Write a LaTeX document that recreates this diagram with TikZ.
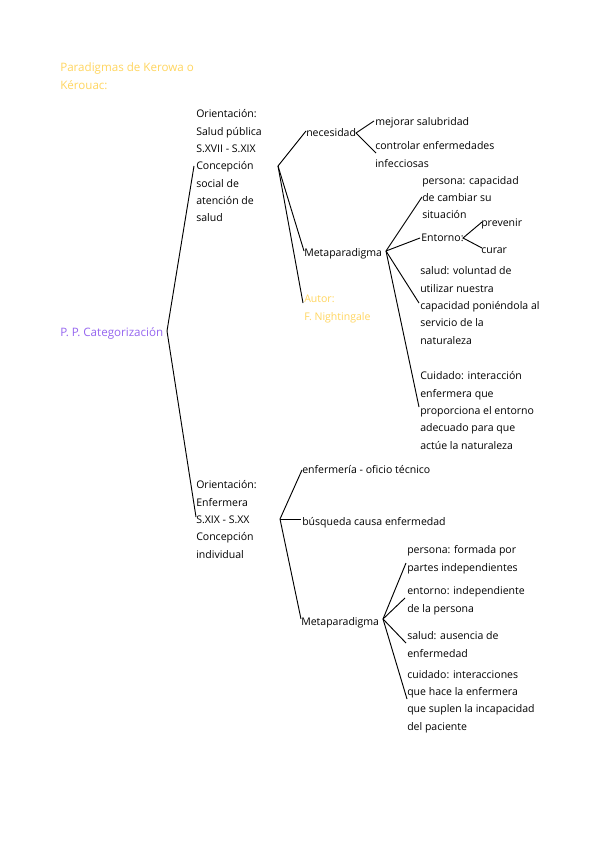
\documentclass[tikz,border=0pt]{standalone}
\usepackage{fontspec}
\setmainfont{Open Sans}
\definecolor{ylw}{RGB}{255,214,96}
\definecolor{prp}{RGB}{150,102,240}
\begin{document}
% note: multi-line nodes are placed by the baseline of their LAST line
\begin{tikzpicture}[x=0.75pt,y=-0.75pt,
  txt/.style={anchor=base west,inner sep=0pt,align=left,font=\fontsize{7.9}{13}\selectfont},
  big/.style={txt,font=\fontsize{8.7}{13}\selectfont},
  conn/.style={line width=0.7pt,black}]
\useasboundingbox (0,0) rectangle (600,848);
\fill[white] (0,0) rectangle (600,848);
\begin{scope}[yshift=-1.5pt]
% texts
\node[big,text=ylw] (title) at (60,87.3) {Paradigmas de Kerowa o\\Kérouac:};
\node[big,text=prp] (root) at (60,334) {P. P. Categorización};
\node[txt] (or1) at (196,220) {Orientación:\\Salud pública\\S.XVII - S.XIX\\Concepción\\social de\\atención de\\salud};
\node[txt] (nec) at (306,135) {necesidad};
\node[txt] (mej) at (375,124) {mejorar salubridad};
\node[txt] (con) at (375,165.3) {controlar enfermedades\\infecciosas};
\node[txt] (meta1) at (304,255) {Metaparadigma};
\node[txt,text=ylw] (aut) at (304,318.3) {Autor:\\F. Nightingale};
\node[txt] (pers1) at (422,216.7) {persona: capacidad\\de cambiar su\\situación};
\node[txt] (ent1) at (421,240) {Entorno:};
\node[txt] (prev) at (481,225) {prevenir};
\node[txt] (cur) at (481,251) {curar};
\node[txt] (sal1) at (420,342.3) {salud: voluntad de\\utilizar nuestra\\capacidad poniéndola al\\servicio de la\\naturaleza};
\node[txt] (cui1) at (420,447.3) {Cuidado: interacción\\enfermera que\\proporciona el entorno\\adecuado para que\\actúe la naturaleza};
\node[txt] (or2) at (196,556.3) {Orientación:\\Enfermera\\S.XIX - S.XX\\Concepción\\individual};
\node[txt] (enf) at (302,471) {enfermería - oficio técnico};
\node[txt] (bus) at (302,523) {búsqueda causa enfermedad};
\node[txt] (meta2) at (301,623) {Metaparadigma};
\node[txt] (pers2) at (407,569.3) {persona: formada por\\partes independientes};
\node[txt] (ent2) at (407,610.3) {entorno: independiente\\de la persona};
\node[txt] (sal2) at (407,655.3) {salud: ausencia de\\enfermedad};
\node[txt] (cui2) at (407,728) {cuidado: interacciones\\que hace la enfermera\\que suplen la incapacidad\\del paciente};
\end{scope}
% connector points
\coordinate (rootR) at (167,331);
\coordinate (or1in) at (194,166);
\coordinate (or2in) at (196,517);
\coordinate (b1) at (278,166);
\coordinate (necin) at (306,131);
\coordinate (meta1in) at (304,251);
\coordinate (autin) at (303,303);
\coordinate (necR) at (356,133);
\coordinate (mejin) at (374,121);
\coordinate (conin) at (376,153);
\coordinate (meta1R) at (386,251);
\coordinate (pers1in) at (422,197);
\coordinate (ent1in) at (420,238);
\coordinate (sal1in) at (419,303);
\coordinate (cui1in) at (419,407);
\coordinate (ent1R) at (463,238);
\coordinate (previn) at (482,222);
\coordinate (curin) at (482,248);
\coordinate (b2) at (280,519);
\coordinate (enfin) at (302,470);
\coordinate (busin) at (301,519);
\coordinate (meta2in) at (301,619);
\coordinate (meta2R) at (383,619);
\coordinate (pers2in) at (406,563);
\coordinate (ent2in) at (405,598);
\coordinate (sal2in) at (406,643);
\coordinate (cui2in) at (407,699);
% connectors
\draw[conn] (or1in) -- (rootR) -- (or2in);
\draw[conn] (b1) -- (necin);
\draw[conn] (b1) -- (meta1in);
\draw[conn] (b1) -- (autin);
\draw[conn] (mejin) -- (necR) -- (conin);
\draw[conn] (meta1R) -- (pers1in);
\draw[conn] (meta1R) -- (ent1in);
\draw[conn] (meta1R) -- (sal1in);
\draw[conn] (meta1R) -- (cui1in);
\draw[conn] (previn) -- (ent1R) -- (curin);
\draw[conn] (b2) -- (enfin);
\draw[conn] (b2) -- (busin);
\draw[conn] (b2) -- (meta2in);
\draw[conn] (meta2R) -- (pers2in);
\draw[conn] (meta2R) -- (ent2in);
\draw[conn] (meta2R) -- (sal2in);
\draw[conn] (meta2R) -- (cui2in);
\end{tikzpicture}
\end{document}
